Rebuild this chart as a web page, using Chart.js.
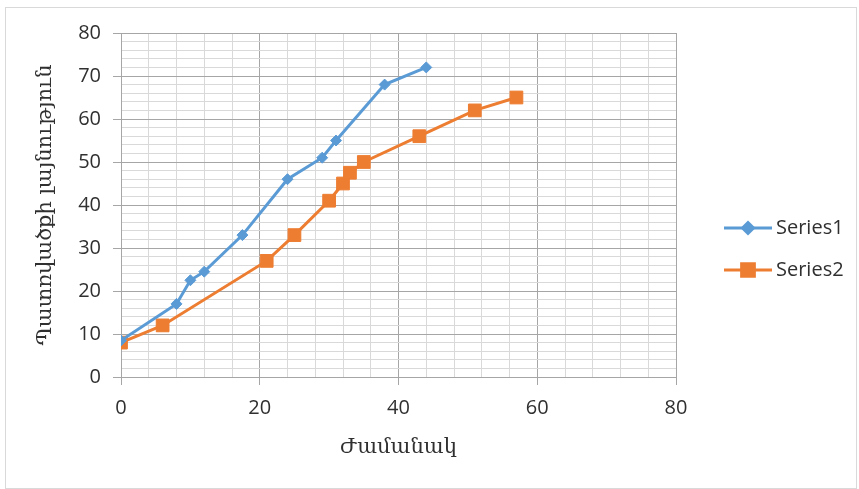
<!DOCTYPE html>
<html>
<head>
<meta charset="utf-8">
<script src="https://cdn.jsdelivr.net/npm/chart.js@4"></script>
<style>
  html, body { margin: 0; padding: 0; background: #fff; }
  #wrap { position: relative; width: 859px; height: 489px; }
</style>
</head>
<body>
<div id="wrap"><canvas id="chart"></canvas></div>
<script>
// values
const series1X = [0, 8, 10, 12, 17.5, 24, 29, 31, 38, 44];
const series1Y = [8.5, 17, 22.5, 24.5, 33, 46, 51, 55, 68, 72];
const series2X = [0, 6, 21, 25, 30, 32, 33, 35, 43, 51, 57];
const series2Y = [8, 12, 27, 33, 41, 45, 47.5, 50, 56, 62, 65];
const seriesNames = ["Series1", "Series2"];
const xTitle = "Ժամանակ";
const yTitle = "Պատռվածքի լայնություն";

const blue = "#5B9BD5";
const orange = "#ED7D31";
const majorGrid = "#a6a6a6";
const minorGrid = "#d9d9d9";
const textColor = "#303030";

const toPoints = (xs, ys) => xs.map((x, i) => ({ x: x, y: ys[i] }));

// outer chart frame
const framePlugin = {
    id: "frame",
    beforeDraw(chart) {
        const ctx = chart.ctx;
        ctx.save();
        ctx.strokeStyle = "#d9d9d9";
        ctx.lineWidth = 1;
        ctx.strokeRect(5.5, 7.5, 851, 481);
        ctx.restore();
    },
};

// excel-like legend: short line with the marker in the middle
const legendPlugin = {
    id: "lineLegend",
    afterDraw(chart) {
        const ctx = chart.ctx;
        const area = chart.chartArea;
        const x0 = area.right + 48;
        const rows = [228, 270];
        chart.data.datasets.forEach((ds, i) => {
            const y = rows[i];
            ctx.save();
            ctx.strokeStyle = ds.borderColor;
            ctx.lineWidth = 3;
            ctx.beginPath();
            ctx.moveTo(x0, y);
            ctx.lineTo(x0 + 48, y);
            ctx.stroke();
            Chart.helpers.drawPoint(ctx, {
                pointStyle: ds.pointStyle,
                radius: ds.pointRadius,
                borderWidth: 1,
            }, x0 + 24, y);
            ctx.fillStyle = ds.pointBackgroundColor;
            ctx.fill();
            ctx.fillStyle = textColor;
            ctx.font = "20px 'Open Sans'";
            ctx.textBaseline = "middle";
            ctx.fillText(ds.label, x0 + 52, y);
            ctx.restore();
        });
    },
};

new Chart(document.querySelector("#chart").getContext("2d"), {
    type: "scatter",
    data: {
        datasets: [
            {
                label: seriesNames[0],
                data: toPoints(series1X, series1Y),
                showLine: true,
                borderColor: blue,
                backgroundColor: blue,
                pointBackgroundColor: blue,
                pointBorderColor: blue,
                borderWidth: 3,
                pointStyle: "rectRot",
                pointRadius: 5.5,
                pointBorderWidth: 1,
            },
            {
                label: seriesNames[1],
                data: toPoints(series2X, series2Y),
                showLine: true,
                borderColor: orange,
                backgroundColor: orange,
                pointBackgroundColor: orange,
                pointBorderColor: orange,
                borderWidth: 3,
                pointStyle: "rect",
                pointRadius: 9,
                pointBorderWidth: 1,
            },
        ],
    },
    options: {
        responsive: true,
        maintainAspectRatio: false,
        animation: false,
        layout: { padding: { top: 33, right: 183, bottom: 0, left: 0 } },
        plugins: {
            legend: { display: false },
            tooltip: { enabled: false },
        },
        scales: {
            x: {
                type: "linear",
                min: 0,
                max: 80,
                afterFit(scale) { scale.height = 112; },
                ticks: {
                    stepSize: 4,
                    autoSkip: false,
                    maxRotation: 0,
                    padding: 11,
                    color: textColor,
                    font: { family: "'Open Sans'", size: 20 },
                    callback: (v) => (v % 20 === 0 ? String(v) : ""),
                },
                grid: {
                    color: (c) => (c.tick && c.tick.value % 20 === 0 ? majorGrid : minorGrid),
                    tickColor: (c) => (c.tick && c.tick.value % 20 === 0 ? majorGrid : "rgba(0,0,0,0)"),
                    tickLength: 8,
                    lineWidth: 1,
                },
                border: { color: majorGrid },
                title: {
                    display: true,
                    text: xTitle,
                    color: textColor,
                    font: { family: "'DejaVu Serif'", size: 21 },
                    padding: { top: 0, bottom: 29 },
                },
            },
            y: {
                type: "linear",
                min: 0,
                max: 80,
                afterFit(scale) { scale.width = 121; },
                ticks: {
                    stepSize: 2,
                    autoSkip: false,
                    padding: 12,
                    color: textColor,
                    font: { family: "'Open Sans'", size: 20 },
                    callback: (v) => (v % 10 === 0 ? String(v) : ""),
                },
                grid: {
                    color: (c) => (c.tick && c.tick.value % 10 === 0 ? majorGrid : minorGrid),
                    tickColor: (c) => (c.tick && c.tick.value % 10 === 0 ? majorGrid : "rgba(0,0,0,0)"),
                    tickLength: 8,
                    lineWidth: 1,
                },
                border: { color: majorGrid },
                title: {
                    display: true,
                    text: yTitle,
                    color: textColor,
                    font: { family: "'DejaVu Serif'", size: 21 },
                    padding: { top: 33, bottom: 0 },
                },
            },
        },
    },
    plugins: [framePlugin, legendPlugin],
});
</script>
</body>
</html>
